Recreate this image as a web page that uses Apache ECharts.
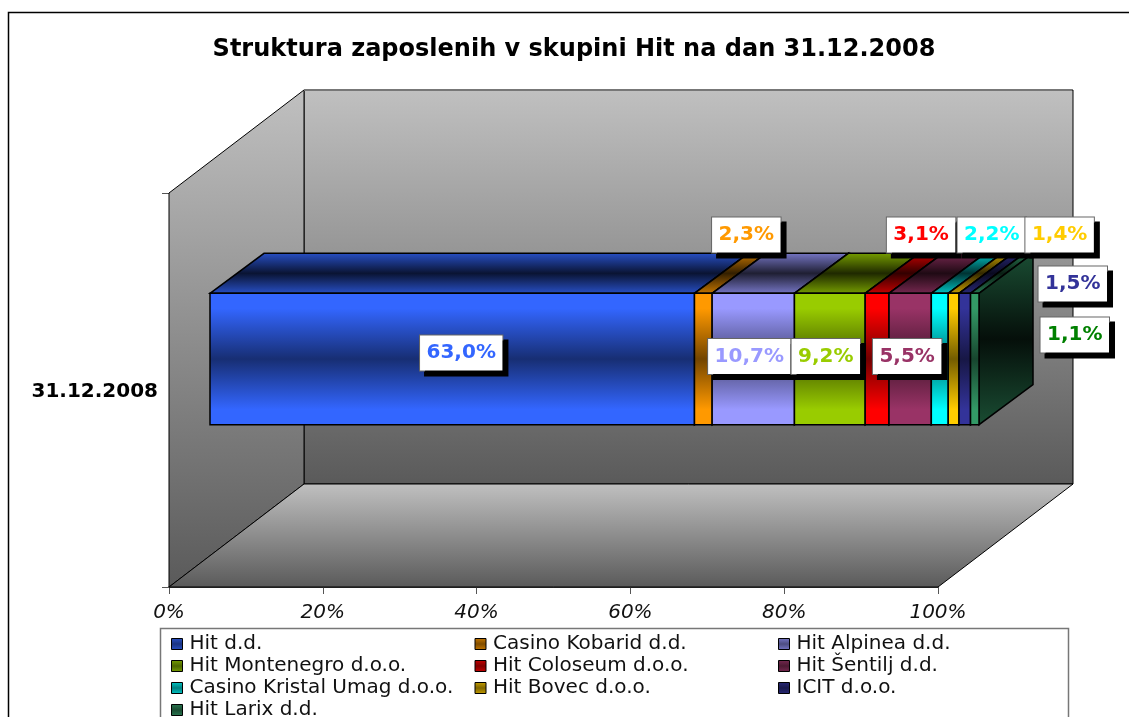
<!DOCTYPE html>
<html>
<head>
<meta charset="utf-8">
<style>html,body{margin:0;padding:0;background:#fff;overflow:hidden}#chart{width:1129px;height:717px}</style>
<script src="https://cdn.jsdelivr.net/npm/echarts@6/dist/echarts.min.js"></script>
</head>
<body>
<div id="chart"></div>
<script>
const categories = ['31.12.2008']
const companies = ['Hit d.d.', 'Casino Kobarid d.d.', 'Hit Alpinea d.d.', 'Hit Montenegro d.o.o.', 'Hit Coloseum d.o.o.', 'Hit Šentilj d.d.', 'Casino Kristal Umag d.o.o.', 'Hit Bovec d.o.o.', 'ICIT d.o.o.', 'Hit Larix d.d.']
const shares = [63.0, 2.3, 10.7, 9.2, 3.1, 5.5, 2.2, 1.4, 1.5, 1.1]
const xTicks = [0, 20, 40, 60, 80, 100]

const barColors = ['#3366ff', '#ff9900', '#9999ff', '#99cc00', '#ff0000', '#993366', '#00ffff', '#ffcc00', '#333399', '#339966']
const labelColors = ['#3366ff', '#ff9900', '#9999ff', '#99cc00', '#ff0000', '#993366', '#00ffff', '#ffcc00', '#333399', '#008000']
// labels were dragged around by hand in the original, shift from the middle of each segment
const labelShift = [[9, -6], [43, -124], [-4, -2.5], [-4, -2.5], [44, -124], [-3, -2.5], [52, -124], [106, -124], [108, -75], [100, -24]]

const chart = echarts.init(document.getElementById('chart'))

const depthFront = [41, -31]   // bar front face, from the plot front
const depthBar = [54, -40]     // bar top/side depth
const depthWall = [135, -103]  // back wall

const shade = (hex, k) => {
  const n = parseInt(hex.slice(1), 16)
  const c = [(n >> 16) & 255, (n >> 8) & 255, n & 255].map(v => Math.round(v * k))
  return `rgb(${c[0]},${c[1]},${c[2]})`
}
const vGrad = (stops) => new echarts.graphic.LinearGradient(0, 0, 0, 1, stops.map(s => ({ offset: s[0], color: s[1] })))
const frontFill = c => vGrad([[0, c], [0.12, c], [0.5, shade(c, 0.45)], [0.88, c], [1, c]])
const topFill = c => vGrad([[0, shade(c, 0.78)], [0.5, shade(c, 0.2)], [1, shade(c, 0.78)]])
const sideFill = c => vGrad([[0, shade(c, 0.5)], [0.5, shade(c, 0.1)], [1, shade(c, 0.5)]])

const wallItem = (params, api) => {
  const mid = api.coord([0, 0])
  const band = api.size([0, 1])[1]
  const x0 = mid[0], yB = mid[1] + band / 2, yT = mid[1] - band / 2
  const x1 = api.coord([100, 0])[0]
  const [dx, dy] = depthWall
  const wall = points => ({ type: 'polygon', shape: { points }, style: { fill: vGrad([[0, '#c0c0c0'], [1, '#5a5a5a']]), stroke: '#000', lineWidth: 1 } })
  return {
    type: 'group',
    children: [
      wall([[x0 + dx, yT + dy], [x1 + dx, yT + dy], [x1 + dx, yB + dy], [x0 + dx, yB + dy]]),
      wall([[x0, yT], [x0 + dx, yT + dy], [x0 + dx, yB + dy], [x0, yB]]),
      wall([[x0, yB], [x0 + dx, yB + dy], [x1 + dx, yB + dy], [x1, yB]]),
      { type: 'line', shape: { x1: x0 + dx, y1: yT + dy, x2: x1 + dx - 1, y2: yT + dy }, style: { stroke: '#777', lineWidth: 2 } }
    ]
  }
}

const barItem = (params, api) => {
  const i = params.seriesIndex - 1
  const c = barColors[i]
  const start = api.coord([api.value(0), 0])
  const end = api.coord([api.value(1), 0])
  const h = api.size([0, 1])[1] / 3
  const x0 = start[0] + depthFront[0], x1 = end[0] + depthFront[0]
  const yMid = start[1] + depthFront[1]
  const yT = yMid - h / 2, yB = yMid + h / 2
  const [dx, dy] = depthBar
  const edge = { stroke: '#000', lineWidth: 1.5 }
  return {
    type: 'group',
    children: [
      { type: 'polygon', shape: { points: [[x0, yT], [x0 + dx, yT + dy], [x1 + dx, yT + dy], [x1, yT]] }, style: { fill: topFill(c), ...edge } },
      { type: 'polygon', shape: { points: [[x1, yT], [x1 + dx, yT + dy], [x1 + dx, yB + dy], [x1, yB]] }, style: { fill: sideFill(c), ...edge } },
      { type: 'polygon', shape: { points: [[x0, yT], [x1, yT], [x1, yB], [x0, yB]] }, style: { fill: frontFill(c), ...edge } },
      {
        type: 'text',
        z2: 100 + i,
        x: (x0 + x1) / 2 + labelShift[i][0],
        y: yMid + labelShift[i][1],
        style: {
          text: shares[i].toFixed(1).replace('.', ',') + '%',
          font: 'bold 20px "DejaVu Sans"',
          fill: labelColors[i],
          align: 'center',
          verticalAlign: 'middle',
          backgroundColor: '#fff',
          borderColor: '#666',
          borderWidth: 1,
          padding: [6, 6.5],
          lineHeight: 23,
          shadowColor: '#000',
          shadowBlur: 0,
          shadowOffsetX: 5,
          shadowOffsetY: 5
        }
      }
    ]
  }
}

let running = 0
const barSeries = companies.map((name, i) => {
  const data = [[running, running + shares[i], 0]]
  running += shares[i]
  return {
    name,
    type: 'custom',
    coordinateSystem: 'cartesian2d',
    clip: false,
    encode: { x: [0, 1], y: 2 },
    itemStyle: { color: vGrad([[0, shade(barColors[i], 0.78)], [0.5, shade(barColors[i], 0.5)], [1, shade(barColors[i], 0.78)]]) },
    renderItem: barItem,
    data
  }
})

chart.setOption({
  animation: false,
  title: {
    text: 'Struktura zaposlenih v skupini Hit na dan 31.12.2008',
    left: 569, top: 33, textAlign: 'center',
    textStyle: { fontFamily: 'DejaVu Sans', fontWeight: 'bold', fontSize: 24, color: '#000' }
  },
  graphic: [
    { type: 'rect', silent: true, z: 1, shape: { x: 8.5, y: 12.5, width: 1300, height: 900 }, style: { fill: 'none', stroke: '#000', lineWidth: 1.5 } },
    { type: 'rect', silent: true, z: 1, shape: { x: 160.5, y: 628.5, width: 908, height: 120 }, style: { fill: '#fff', stroke: '#777', lineWidth: 1.5 } }
  ],
  grid: { left: 169, right: 191, top: 193, bottom: 130 },
  xAxis: {
    type: 'value', min: 0, max: 100, interval: 20,
    axisLine: { show: true, lineStyle: { color: '#000', width: 1.5 } },
    axisTick: { show: true, length: 7, lineStyle: { color: '#555' } },
    splitLine: { show: false },
    axisLabel: { margin: 16, fontFamily: 'DejaVu Sans', fontStyle: 'italic', fontSize: 20, color: '#111', formatter: '{value}%', customValues: xTicks }
  },
  yAxis: {
    type: 'category', data: categories,
    axisLine: { show: true, lineStyle: { color: '#000', width: 1 } },
    axisTick: { show: true, length: 7, lineStyle: { color: '#555' } },
    axisLabel: {
      margin: 11,
      formatter: '{a|{value}}',
      rich: { a: { fontFamily: 'DejaVu Sans', fontWeight: 'bold', fontSize: 20, color: '#000', padding: [4, 0, 0, 0] } }
    }
  },
  legend: {
    left: 171, top: 633, width: 925,
    orient: 'horizontal',
    padding: 0,
    itemWidth: 11, itemHeight: 11, itemGap: 0,
    icon: 'rect',
    itemStyle: { borderColor: '#000', borderWidth: 1 },
    textStyle: { fontFamily: 'DejaVu Sans', fontSize: 20, color: '#111', width: 285, overflow: 'none', padding: [0, 0, 0, 2], lineHeight: 22 },
    data: companies
  },
  series: [
    { name: 'walls', type: 'custom', coordinateSystem: 'cartesian2d', clip: false, encode: { x: 0, y: 1 }, renderItem: wallItem, data: [[0, 0]], z: 1 },
    ...barSeries
  ]
})
</script>
</body>
</html>
